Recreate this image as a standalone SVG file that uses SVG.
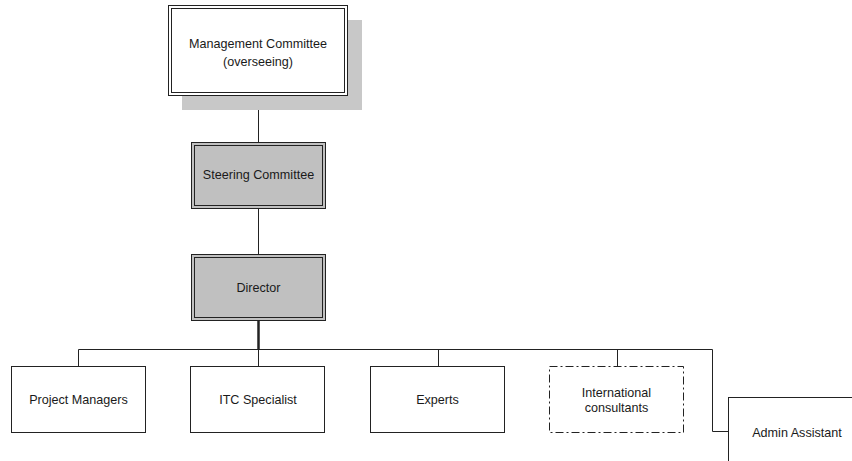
<svg xmlns="http://www.w3.org/2000/svg" width="852" height="461" viewBox="0 0 852 461">
  <style>
    .lbl { font-family: "Liberation Sans", Arial, sans-serif; font-size: 12.6px; fill: #1a1a1a; text-anchor: middle; }
    .box { fill: #ffffff; stroke: #222222; stroke-width: 1; }
    .grey { fill: #c0c0c0; }
    .edge { stroke: #222222; stroke-width: 1; fill: none; }
    .inner { fill: none; stroke: #222222; stroke-width: 1; }
    .dashdot { fill: #ffffff; stroke: #222222; stroke-width: 1; stroke-dasharray: 8 3 2 3; }
  </style>

  <!-- connectors -->
  <g id="connectors">
    <line class="edge" x1="258.5" y1="96" x2="258.5" y2="142"/>
    <line class="edge" x1="258.5" y1="209" x2="258.5" y2="254"/>
    <line class="edge" x1="258.5" y1="321" x2="258.5" y2="349" style="stroke-width:2.5"/>
    <polyline class="edge" points="78.5,366 78.5,349.5 712.5,349.5 712.5,431.5 728,431.5"/>
    <line class="edge" x1="258.5" y1="349" x2="258.5" y2="366"/>
    <line class="edge" x1="438.5" y1="349" x2="438.5" y2="366"/>
    <line class="edge" x1="617.5" y1="349" x2="617.5" y2="366"/>
  </g>

  <!-- top committee with drop shadow -->
  <g id="management">
    <rect x="182" y="20" width="180" height="90" fill="#c8c8c8"/>
    <rect class="box" x="168.5" y="5.5" width="179" height="90"/>
    <rect class="inner" x="171.5" y="8.5" width="173" height="84"/>
    <text class="lbl" x="258" y="48">Management Committee</text>
    <text class="lbl" x="258" y="66">(overseeing)</text>
  </g>

  <g id="steering">
    <rect class="box grey" x="191.5" y="142.5" width="134" height="66"/>
    <rect class="inner" x="194.5" y="145.5" width="128" height="60"/>
    <text class="lbl" x="258.5" y="179">Steering Committee</text>
  </g>

  <g id="director">
    <rect class="box grey" x="191.5" y="254.5" width="134" height="66"/>
    <rect class="inner" x="194.5" y="257.5" width="128" height="60"/>
    <text class="lbl" x="258.5" y="292">Director</text>
  </g>

  <g id="project-managers">
    <rect class="box" x="11.5" y="366.5" width="134" height="66"/>
    <text class="lbl" x="78.5" y="404">Project Managers</text>
  </g>

  <g id="itc-specialist">
    <rect class="box" x="190.5" y="366.5" width="134" height="66"/>
    <text class="lbl" x="258" y="404">ITC Specialist</text>
  </g>

  <g id="experts">
    <rect class="box" x="370.5" y="366.5" width="134" height="66"/>
    <text class="lbl" x="437.5" y="404">Experts</text>
  </g>

  <g id="international-consultants">
    <rect class="dashdot" x="549.5" y="366.5" width="134" height="66"/>
    <text class="lbl" x="616.5" y="397">International</text>
    <text class="lbl" x="616.5" y="412">consultants</text>
  </g>

  <g id="admin-assistant">
    <rect class="box" x="728.5" y="397.5" width="134" height="70"/>
    <text class="lbl" x="797" y="437">Admin Assistant</text>
  </g>
</svg>
